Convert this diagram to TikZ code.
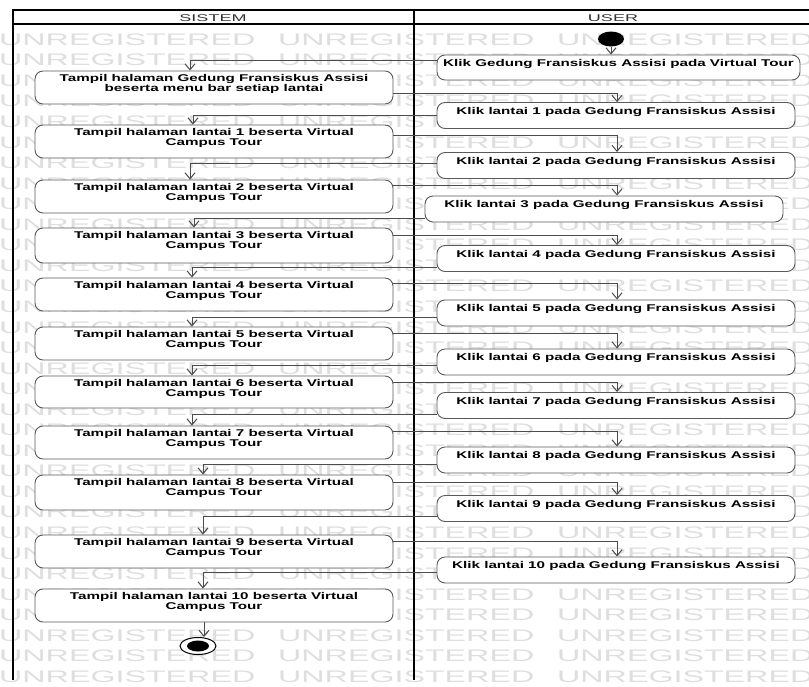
\documentclass[tikz,border=0pt]{standalone}
\usepackage{fontspec}
\setmainfont{Liberation Sans}
\newfontfamily\boxfont[FakeStretch=1.55]{Liberation Sans}
\newfontfamily\headfont[FakeStretch=1.84]{Liberation Sans}
\newfontfamily\wmfont[FakeStretch=1.93]{Liberation Sans}
\usetikzlibrary{arrows.meta,shapes.geometric}

\tikzset{
  lane/.style={draw=black, line width=2pt},
  actbox/.style={draw=black!65, line width=0.9pt, rounded corners=8pt, fill=white,
    inner sep=0pt, minimum width=358pt},
  acttext/.style={anchor=north, inner sep=0pt, align=center, text=black,
    font=\boxfont\bfseries\fontsize{9.8}{10}\selectfont},
  flow/.style={draw=black!70, line width=0.9pt,
    -{Straight Barb[length=6pt,width=10pt,line width=1pt]}},
  wm/.style={anchor=west, inner sep=0pt, text=black!13,
    font=\wmfont\fontsize{16.7}{17}\selectfont},
  headtext/.style={inner sep=0pt, text=black!80,
    font=\headfont\fontsize{9.8}{10}\selectfont},
}

\begin{document}
\begin{tikzpicture}[x=1pt, y=-1pt]
\useasboundingbox (0,0) rectangle (809,686);

% background watermark rows
\begin{scope}
  \clip (0,0) rectangle (809,686);
  \foreach \r in {1,...,32}
    \foreach \c in {0,1,2}
      \node[wm, name=wm-\r-\c] at ({-1+279*\c},{19+20.55*\r}) {UNREGISTERED};
\end{scope}

% swimlane frame
\fill[white] (13,10) rectangle (812,24);
\draw[line width=1.5pt] (13,24) -- (812,24);
\draw[lane] (13,680) -- (13,10) -- (812,10);
\draw[lane] (414,10) -- (414,680);
\node[headtext] (hSistem) at (213,18) {SISTEM};
\node[headtext] (hUser) at (613,18) {USER};

% system lane
\node[actbox, minimum height=33pt] (S0) at (214,87.5) {};
\node[acttext] (St0) at ([yshift=-4pt]S0.north)
  {Tampil halaman Gedung Fransiskus Assisi\\beserta menu bar setiap lantai};
\foreach \k/\yc/\h in {1/141.5/33,2/196.5/33,3/245.5/35,4/294.5/33,5/343.5/33,
    6/392/32,7/442.5/33,8/492.5/35,9/551.5/33,10/605.5/33}{
  \node[actbox, minimum height=\h pt] (S\k) at (214,\yc) {};
  \node[acttext] (St\k) at ([yshift=-4pt]S\k.north)
    {Tampil halaman lantai \k\ beserta Virtual\\Campus Tour};
}

% user lane
\node[actbox, minimum width=363pt, minimum height=25pt] (U0) at (618.5,67.5) {};
\node[acttext] (Ut0) at ([yshift=-5pt]U0.north)
  {Klik Gedung Fransiskus Assisi pada Virtual Tour};
\foreach \k/\xc/\yc in {1/616/115.5,2/616/165.5,3/604/209,4/616/258.5,5/616/313,
    6/616/362,7/616/405.5,8/616/460,9/616/508.5,10/616/570}{
  \node[actbox, minimum height=26pt] (U\k) at (\xc,\yc) {};
  \node[acttext] (Ut\k) at ([yshift=-5pt]U\k.north)
    {Klik lantai \k\ pada Gedung Fransiskus Assisi};
}

% initial and final states
\node[ellipse, fill=black, minimum width=26pt, minimum height=15pt, inner sep=0pt]
  (start) at (611,39) {};
\node[ellipse, draw=black, line width=1pt, fill=white, minimum width=36pt,
  minimum height=17pt, inner sep=0pt] (final) at (198,646) {};
\node[ellipse, fill=black, minimum width=22pt, minimum height=11pt, inner sep=0pt]
  (finalDot) at (final) {};

% control flows
\draw[flow] (start) -- (start |- U0.north);
\foreach \a/\sy/\sx in {0/7.5/-24,1/0.5/-21,2/2.5/-24,3/-9/-20,4/-8.5/-22,
    5/-4/-22,6/-3/-22,7/-8.5/-22,8/-4/-11,9/-7.5/-11,10/-2/-11}
  \draw[flow] ([yshift=\sy pt]U\a.west) -| ([xshift=\sx pt]S\a.north);
\foreach \a/\b/\sy/\sx in {0/1/-5.5/1,1/2/6.5/1,2/3/11.5/13,3/4/10.5/1,4/5/11.5/1,
    5/6/10.5/1,6/7/10/1,7/8/11.5/1,8/9/10.5/1,9/10/10.5/1}
  \draw[flow] ([yshift=\sy pt]S\a.east) -| ([xshift=\sx pt]U\b.north);
\draw[flow] ([xshift=-10pt]S10.south) -- ([xshift=-10pt]S10.south |- final.north);
\end{tikzpicture}
\end{document}
